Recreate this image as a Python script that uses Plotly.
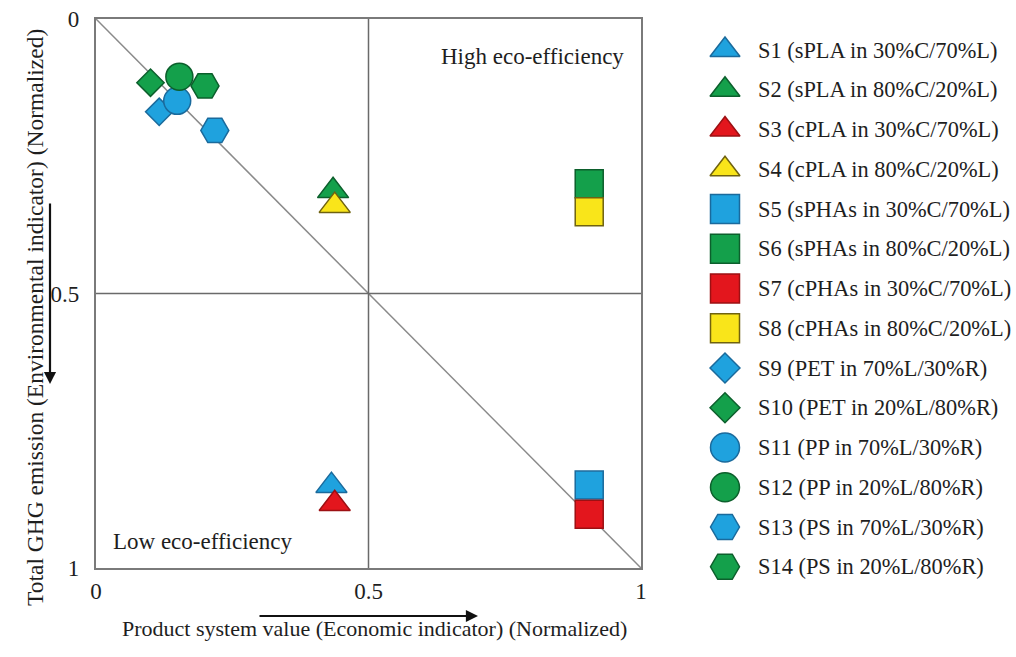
import plotly.graph_objects as go

W, H = 1016, 657

# Scenario data: normalized economic value (x) and normalized GHG emission (y)
scenarios = [
    "S1 (sPLA in 30%C/70%L)", "S2 (sPLA in 80%C/20%L)",
    "S3 (cPLA in 30%C/70%L)", "S4 (cPLA in 80%C/20%L)",
    "S5 (sPHAs in 30%C/70%L)", "S6 (sPHAs in 80%C/20%L)",
    "S7 (cPHAs in 30%C/70%L)", "S8 (cPHAs in 80%C/20%L)",
    "S9 (PET in 70%L/30%R)", "S10 (PET in 20%L/80%R)",
    "S11 (PP in 70%L/30%R)", "S12 (PP in 20%L/80%R)",
    "S13 (PS in 70%L/30%R)", "S14 (PS in 20%L/80%R)",
]
economic = [0.432, 0.435, 0.438, 0.438, 0.905, 0.905, 0.905, 0.905,
            0.116, 0.100, 0.149, 0.153, 0.218, 0.200]
environmental = [0.850, 0.313, 0.883, 0.340, 0.849, 0.300, 0.902, 0.351,
                 0.169, 0.116, 0.149, 0.105, 0.203, 0.122]
shapes_used = ["triangle-up"] * 4 + ["square"] * 4 + ["diamond"] * 2 + ["circle"] * 2 + ["hexagon2"] * 2
colour_keys = ["blue", "green", "red", "yellow"] * 2 + ["blue", "green"] * 3

tick_values = [0, 0.5, 1]
tick_labels = ["0", "0.5", "1"]

FILL = {"blue": "#1fa2de", "green": "#14a04b", "red": "#e3161d", "yellow": "#f9e51a"}
EDGE = {"blue": "#1a6a9c", "green": "#0c5f2c", "red": "#9c1013", "yellow": "#6f6210"}

PLOT_SIZE = {"triangle-up": 27, "square": 28, "diamond": 21, "circle": 27, "hexagon2": 28}
LEG_SIZE = {"triangle-up": 26, "square": 29, "diamond": 23, "circle": 29, "hexagon2": 29}

FONT = "Liberation Serif, Times New Roman, serif"
TXT = "#1e1e1e"
FS = 23
LEG_FS = 22.4

# plot frame in pixels
PL, PR, PT, PB = 96, 641, 19, 568

fig = go.Figure()

for i, name in enumerate(scenarios):
    sym = shapes_used[i]
    ck = colour_keys[i]
    fig.add_trace(go.Scatter(
        x=[economic[i]], y=[environmental[i]], mode="markers", name=name,
        marker=dict(symbol=sym, size=PLOT_SIZE[sym], color=FILL[ck], opacity=1,
                    line=dict(color=EDGE[ck], width=1.5)),
        cliponaxis=False, showlegend=False,
    ))

# hand-built legend on its own hidden axes
LEG_TOP, LEG_STEP = 50, 39.75
fig.add_trace(go.Scatter(
    x=[45] * len(scenarios), y=list(range(len(scenarios))), mode="markers",
    marker=dict(symbol=shapes_used, size=[LEG_SIZE[s] for s in shapes_used],
                color=[FILL[c] for c in colour_keys], opacity=1,
                line=dict(color=[EDGE[c] for c in colour_keys], width=1.5)),
    xaxis="x2", yaxis="y2", cliponaxis=False, showlegend=False, hoverinfo="skip",
))

annotations = []
for i, name in enumerate(scenarios):
    annotations.append(dict(x=76, y=i, xref="x2", yref="y2", text=name, showarrow=False,
                            xanchor="left", yanchor="middle",
                            font=dict(family=FONT, size=LEG_FS, color=TXT)))

annotations += [
    dict(x=0.80, y=0.069, xref="x", yref="y", text="High eco-efficiency", showarrow=False,
         font=dict(family=FONT, size=FS, color=TXT)),
    dict(x=0.196, y=0.951, xref="x", yref="y", text="Low eco-efficiency", showarrow=False,
         font=dict(family=FONT, size=FS, color=TXT)),
    dict(x=374 / W, y=1 - 643 / H, xref="paper", yref="paper",
         text="Product system value (Economic indicator) (Normalized)", showarrow=False,
         font=dict(family=FONT, size=22, color=TXT)),
    dict(x=20 / W, y=1 - 318 / H, xref="paper", yref="paper", textangle=-90,
         text="Total GHG emission (Environmental indicator) (Normalized)", showarrow=False,
         font=dict(family=FONT, size=23.5, color=TXT)),
    # direction arrows
    dict(x=478 / W, y=1 - 616 / H, xref="paper", yref="paper", text="", showarrow=True,
         ax=-220, ay=0, arrowhead=2, arrowsize=1.1, arrowwidth=2.2, arrowcolor="#111111"),
    dict(x=50 / W, y=1 - 384 / H, xref="paper", yref="paper", text="", showarrow=True,
         ax=0, ay=-182, arrowhead=2, arrowsize=1.1, arrowwidth=2.2, arrowcolor="#111111"),
]

shapes = [
    dict(type="line", xref="x", yref="y", x0=0, y0=0, x1=1, y1=1,
         line=dict(color="#8a8a8a", width=1.5), layer="below"),
    dict(type="line", xref="x", yref="y", x0=0.5, y0=0, x1=0.5, y1=1,
         line=dict(color="#6a6a6a", width=1.5), layer="below"),
    dict(type="line", xref="x", yref="y", x0=0, y0=0.5, x1=1, y1=0.5,
         line=dict(color="#6a6a6a", width=1.5), layer="below"),
]

axis_common = dict(showgrid=False, zeroline=False, showline=True, mirror=True,
                   linecolor="#7a7a7a", linewidth=2.2, ticks="", automargin=False,
                   tickvals=tick_values, ticktext=tick_labels,
                   tickfont=dict(family=FONT, size=FS, color=TXT))

fig.update_layout(
    template="none",
    width=W, height=H, margin=dict(l=0, r=0, t=0, b=0, pad=0, autoexpand=False),
    paper_bgcolor="white", plot_bgcolor="white", showlegend=False,
    xaxis=dict(domain=[PL / W, PR / W], range=[0, 1], ticklabelstandoff=1, **axis_common),
    yaxis=dict(domain=[1 - PB / H, 1 - PT / H], range=[1, 0], ticklabelstandoff=10, **axis_common),
    xaxis2=dict(domain=[680 / W, 1], range=[0, 336], visible=False, fixedrange=True,
                automargin=False, anchor="y2"),
    yaxis2=dict(domain=[0, 1], range=[(H - LEG_TOP) / LEG_STEP, -LEG_TOP / LEG_STEP],
                visible=False, fixedrange=True, anchor="x2", automargin=False),
    annotations=annotations, shapes=shapes,
)

fig.write_html("out.html")
